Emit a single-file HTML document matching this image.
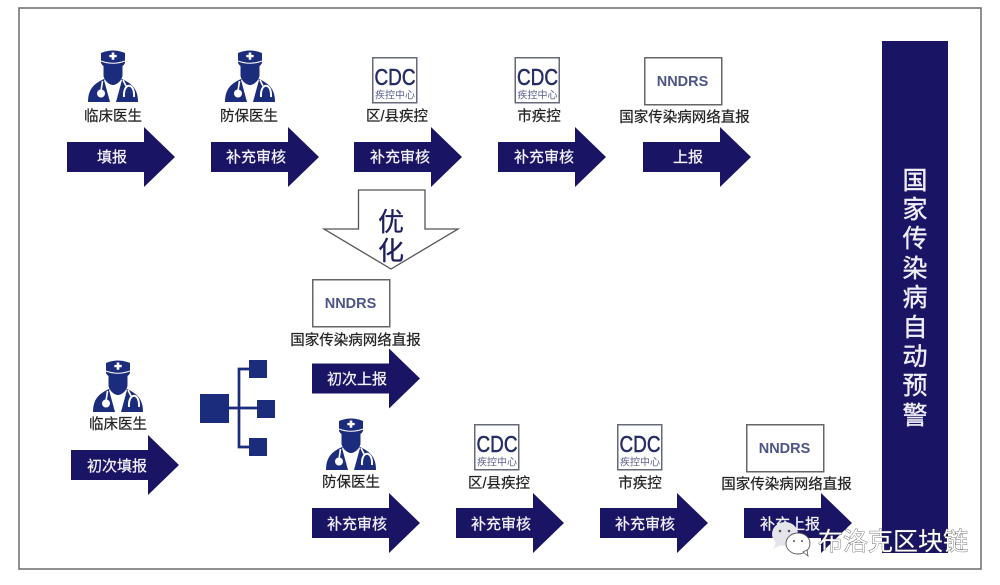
<!DOCTYPE html>
<html lang="zh">
<head>
<meta charset="utf-8">
<style>
html,body{margin:0;padding:0;background:#fff;width:1000px;height:585px;overflow:hidden}
svg{display:block}
text{font-family:"Liberation Sans","Noto Sans CJK SC",sans-serif}
.l{font-size:14.5px;fill:#222;stroke:#222;stroke-width:.2;text-anchor:middle}
.a{font-size:15px;fill:#f2f2f8;stroke:#f2f2f8;stroke-width:.25;text-anchor:middle}
.s{font-size:25px;fill:#eeeef8;stroke:#eeeef8;stroke-width:.4;text-anchor:middle}
.n{font-size:14.5px;font-weight:bold;fill:#4d5488;text-anchor:middle}
.c{font-size:23px;fill:#252b66;stroke:#252b66;stroke-width:.5;text-anchor:middle}
.d{font-size:10px;fill:#5a5f90;text-anchor:middle}
</style>
</head>
<body>
<svg width="1000" height="585" viewBox="0 0 1000 585" xmlns="http://www.w3.org/2000/svg">
<defs>
<g id="doc">
  <path d="M0 52 C0 40 5 34 16 29 L34 29 C45 34 50 40 50 52 Z" fill="#1c2c7c"/>
  <path d="M16 30 L22 52 L28 52 L34 30 L30 26 L20 26 Z" fill="#fff"/>
  <path d="M13 3 Q25 -2 37 3 L37 13 Q36 15 34.5 16 L34.5 25 C34.5 30 29 35 25 35 C21 35 15.5 30 15.5 25 L15.5 16 Q14 15 13 13 Z" fill="#1c2c7c"/>
  <path d="M13 11 Q25 15.5 37 11" stroke="#fff" stroke-width="1.1" fill="none"/>
  <path d="M23.7 2.5 h2.6 v2.4 h2.4 v2.4 h-2.4 v2.4 h-2.6 v-2.4 h-2.4 v-2.4 h2.4 Z" fill="#fff"/>
  <path d="M14.5 31 L13 41" stroke="#fff" stroke-width="1.6" fill="none"/>
  <circle cx="13" cy="43.5" r="4" fill="#fff"/>
  <path d="M36 47 C35 32 47 32 46 47" stroke="#fff" stroke-width="2" fill="none"/>
  <path d="M35 30 L38 36" stroke="#fff" stroke-width="1.6" fill="none"/>
</g>
<path id="arr" d="M0 15 L77 15 L77 0 L108 30 L77 60 L77 45 L0 45 Z" fill="#1a1464"/>
<g id="ring">
  <rect x="0.75" y="0.75" width="44" height="45" fill="#fff" stroke="#666a78" stroke-width="1.5"/>
</g>
<g id="nbox">
  <rect x="0.75" y="0.75" width="77" height="47" fill="#fff" stroke="#666" stroke-width="1.5"/>
</g>
</defs>

<rect width="1000" height="585" fill="#fff"/>
<rect x="19" y="8" width="962" height="561" fill="#fff" stroke="#6a6a6a" stroke-width="1.5"/>

<!-- side bar -->
<rect x="882" y="41" width="66" height="512" fill="#1a1464"/>
<text class="s" x="915" y="189">国</text>
<text class="s" x="915" y="218">家</text>
<text class="s" x="915" y="247">传</text>
<text class="s" x="915" y="277">染</text>
<text class="s" x="915" y="306">病</text>
<text class="s" x="915" y="336">自</text>
<text class="s" x="915" y="365">动</text>
<text class="s" x="915" y="394">预</text>
<text class="s" x="915" y="424">警</text>

<!-- top row -->
<use href="#doc" x="88" y="50"/>
<use href="#doc" x="225" y="50"/>
<text class="l" x="113" y="121">临床医生</text>
<text class="l" x="249" y="121">防保医生</text>

<use href="#ring" x="372" y="57"/>
<text class="c" x="395" y="85" textLength="41" lengthAdjust="spacingAndGlyphs">CDC</text>
<text class="d" x="395" y="98.5">疾控中心</text>
<text class="l" x="397" y="121">区/县疾控</text>

<use href="#ring" x="514.5" y="57"/>
<text class="c" x="537.5" y="85" textLength="41" lengthAdjust="spacingAndGlyphs">CDC</text>
<text class="d" x="537.5" y="98.5">疾控中心</text>
<text class="l" x="539" y="121">市疾控</text>

<use href="#nbox" x="644" y="57"/>
<text class="n" x="682.5" y="86">NNDRS</text>
<text class="l" x="684.5" y="122">国家传染病网络直报</text>

<use href="#arr" x="67" y="127"/>
<use href="#arr" x="211" y="127"/>
<use href="#arr" x="354" y="127"/>
<use href="#arr" x="498" y="127"/>
<use href="#arr" x="643" y="127"/>
<text class="a" x="112" y="162">填报</text>
<text class="a" x="256" y="162">补充审核</text>
<text class="a" x="400" y="162">补充审核</text>
<text class="a" x="544" y="162">补充审核</text>
<text class="a" x="688" y="162">上报</text>

<!-- optimize arrow -->
<path d="M358.5 190 L425 190 L425 229 L458 229 L391 269 L324 229 L358.5 229 Z" fill="#fff" stroke="#555" stroke-width="1.3"/>
<text x="391" y="231" font-size="26" fill="#1f1f5e" stroke="#1f1f5e" stroke-width=".3" text-anchor="middle">优</text>
<text x="391" y="260" font-size="26" fill="#1f1f5e" stroke="#1f1f5e" stroke-width=".3" text-anchor="middle">化</text>

<!-- middle -->
<use href="#nbox" x="312" y="279"/>
<text class="n" x="350.5" y="308">NNDRS</text>
<text class="l" x="355.5" y="345">国家传染病网络直报</text>
<use href="#arr" x="312" y="348.5"/>
<text class="a" x="357" y="384">初次上报</text>

<!-- network icon -->
<g fill="#1c2c7c">
  <rect x="200" y="394" width="29" height="29"/>
  <rect x="249" y="360" width="18" height="18"/>
  <rect x="257" y="400" width="18" height="18"/>
  <rect x="249" y="438" width="18" height="18"/>
</g>
<path d="M229 408 H257 M249 369 H239 V447 H249" stroke="#1c2c7c" stroke-width="2.7" fill="none"/>

<!-- left doctor -->
<use href="#doc" x="93" y="360"/>
<text class="l" x="118" y="429">临床医生</text>
<use href="#arr" x="71" y="435"/>
<text class="a" x="117" y="471">初次填报</text>

<!-- bottom row -->
<use href="#doc" x="326" y="418"/>
<text class="l" x="351" y="487">防保医生</text>

<use href="#ring" x="474" y="424"/>
<text class="c" x="497" y="452" textLength="41" lengthAdjust="spacingAndGlyphs">CDC</text>
<text class="d" x="497" y="465.5">疾控中心</text>
<text class="l" x="499" y="488">区/县疾控</text>

<use href="#ring" x="617" y="424"/>
<text class="c" x="640" y="452" textLength="41" lengthAdjust="spacingAndGlyphs">CDC</text>
<text class="d" x="640" y="465.5">疾控中心</text>
<text class="l" x="640" y="488">市疾控</text>

<use href="#nbox" x="746" y="424"/>
<text class="n" x="784.5" y="453">NNDRS</text>
<text class="l" x="786.5" y="489">国家传染病网络直报</text>

<use href="#arr" x="312" y="493"/>
<use href="#arr" x="456" y="493"/>
<use href="#arr" x="600" y="493"/>
<use href="#arr" x="744" y="493"/>
<text class="a" x="357" y="529">补充审核</text>
<text class="a" x="501" y="529">补充审核</text>
<text class="a" x="645" y="529">补充审核</text>
<text class="a" x="790" y="529">补充上报</text>

<!-- watermark -->
<g>
  <ellipse cx="785" cy="534" rx="13" ry="12" fill="#e4e4ea"/>
  <path d="M776 543 L773 549 L781 545 Z" fill="#e4e4ea"/>
  <ellipse cx="798" cy="543.5" rx="12" ry="10.5" fill="#fff" stroke="#555" stroke-width="0.9"/>
  <path d="M803 552 L808 556 L807 550 Z" fill="#fff" stroke="#555" stroke-width="0.8"/>
  <circle cx="780" cy="531" r="1.3" fill="#555"/>
  <circle cx="789" cy="531" r="1.3" fill="#555"/>
  <circle cx="794" cy="541" r="1" fill="#555"/>
  <circle cx="802" cy="541" r="1" fill="#555"/>
</g>
<text x="818" y="550" font-size="25" fill="#fff" stroke="#444" stroke-width="0.7" paint-order="stroke" textLength="150" lengthAdjust="spacing">布洛克区块链</text>
</svg>
</body>
</html>
